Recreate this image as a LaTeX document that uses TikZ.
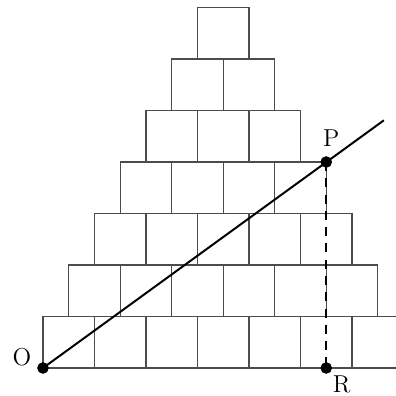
\documentclass[tikz,border=0pt]{standalone}
\usepackage{tikz}

\begin{document}
\begin{tikzpicture}[
    brick/.style={draw=black!70,line width=0.6pt},
    dot/.style={circle,fill=black,inner sep=0pt,minimum size=0.22cm},
    lab/.style={font=\fontsize{13.5}{16}\selectfont}]
  \useasboundingbox (-0.835,-0.544) rectangle (6.854,7.146);
  \clip (-0.835,-0.544) rectangle (6.854,7.146);
  % pyramid of squares, row k has 7-k squares
  \foreach \k in {0,...,6} {
    \pgfmathtruncatemacro{\last}{6-\k}
    \foreach \i in {0,...,\last}
      \draw[brick] (\i+\k/2,\k) rectangle ++(1,1);
  }
  \coordinate (E) at (6.62,4.81);
  \node[dot] (O) at (0,0) {};
  \node[dot] (P) at (5.5,4) {};
  \node[dot] (R) at (5.5,0) {};
  \draw[line width=1.1pt] (O.center) -- (E);
  \draw[line width=1.1pt,dash pattern=on 5pt off 4pt] (P.center) -- (R.center);
  \node[dot] at (O) {};
  \node[dot] at (P) {};
  \node[dot] at (R) {};
  \node[lab] (Olab) at (-0.41,0.21) {O};
  \node[lab] (Plab) at (5.6,4.47) {P};
  \node[lab] (Rlab) at (5.8,-0.32) {R};
\end{tikzpicture}
\end{document}
